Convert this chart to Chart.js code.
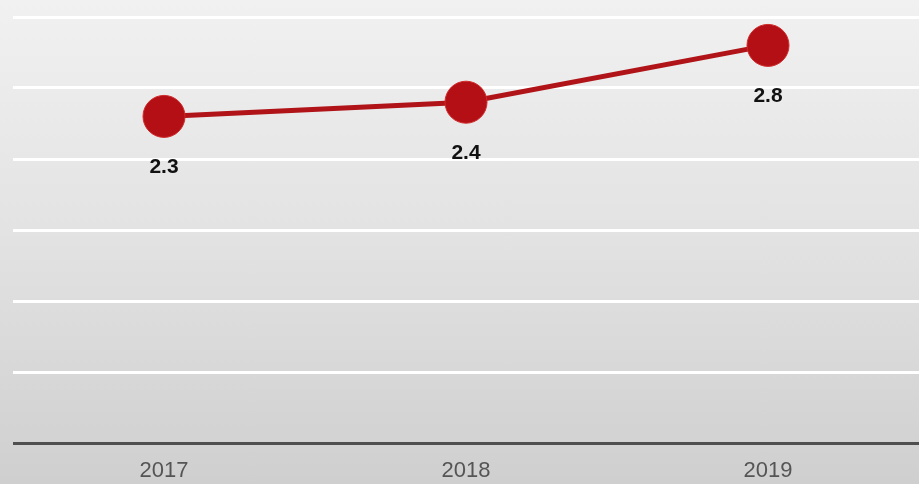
<!DOCTYPE html>
<html>
<head>
<meta charset="utf-8">
<script src="https://cdn.jsdelivr.net/npm/chart.js@4/dist/chart.umd.min.js"></script>
<style>
  html, body { margin: 0; padding: 0; }
  body { width: 919px; height: 484px; overflow: hidden;
         background: linear-gradient(to bottom, #f1f1f1 0%, #e2e2e2 50%, #cfcfcf 100%); }
  #wrap { position: relative; width: 919px; height: 484px; }
</style>
</head>
<body>
<div id="wrap"><canvas id="c"></canvas></div>
<script>
const years = ['2017', '2018', '2019'];
const values = [2.3, 2.4, 2.8];
const yTicks = [0, 0.5, 1, 1.5, 2, 2.5, 3];

const valueLabels = {
  id: 'valueLabels',
  afterDatasetsDraw(chart) {
    const ctx = chart.ctx;
    const meta = chart.getDatasetMeta(0);
    ctx.save();
    ctx.font = 'bold 21px "Liberation Sans", Arial, sans-serif';
    ctx.fillStyle = '#111111';
    ctx.textAlign = 'center';
    ctx.textBaseline = 'middle';
    meta.data.forEach((pt, i) => {
      ctx.fillText(values[i].toFixed(1), pt.x, pt.y + 51);
    });
    ctx.restore();
  }
};

new Chart(document.getElementById('c'), {
  type: 'line',
  data: {
    labels: years,
    datasets: [{
      data: values,
      borderColor: '#b01318',
      borderWidth: 5,
      pointRadius: 21,
      pointHoverRadius: 21,
      pointBackgroundColor: '#b30f14',
      pointBorderColor: '#cf2a2a',
      pointBorderWidth: 1,
      tension: 0,
      clip: false
    }]
  },
  options: {
    responsive: true,
    maintainAspectRatio: false,
    animation: false,
    layout: { autoPadding: false, padding: { left: 13, right: 0, top: 17, bottom: 0 } },
    plugins: { legend: { display: false }, tooltip: { enabled: false } },
    scales: {
      x: {
        offset: true,
        grid: { display: false, drawTicks: false },
        border: { display: false },
        afterFit(scale) { scale.height = 41; },
        ticks: {
          color: '#555555',
          padding: 15,
          font: { family: '"Liberation Sans", Arial, sans-serif', size: 22 }
        }
      },
      y: {
        min: 0,
        max: 3,
        afterBuildTicks(scale) { scale.ticks = yTicks.map(v => ({ value: v })); },
        afterFit(scale) { scale.width = 0; },
        ticks: { display: false },
        border: { display: false },
        grid: {
          drawTicks: false,
          color: (c) => c.tick && c.tick.value === 0 ? '#4f4f4f' : '#ffffff',
          lineWidth: 3
        }
      }
    }
  },
  plugins: [valueLabels]
});
</script>
</body>
</html>
